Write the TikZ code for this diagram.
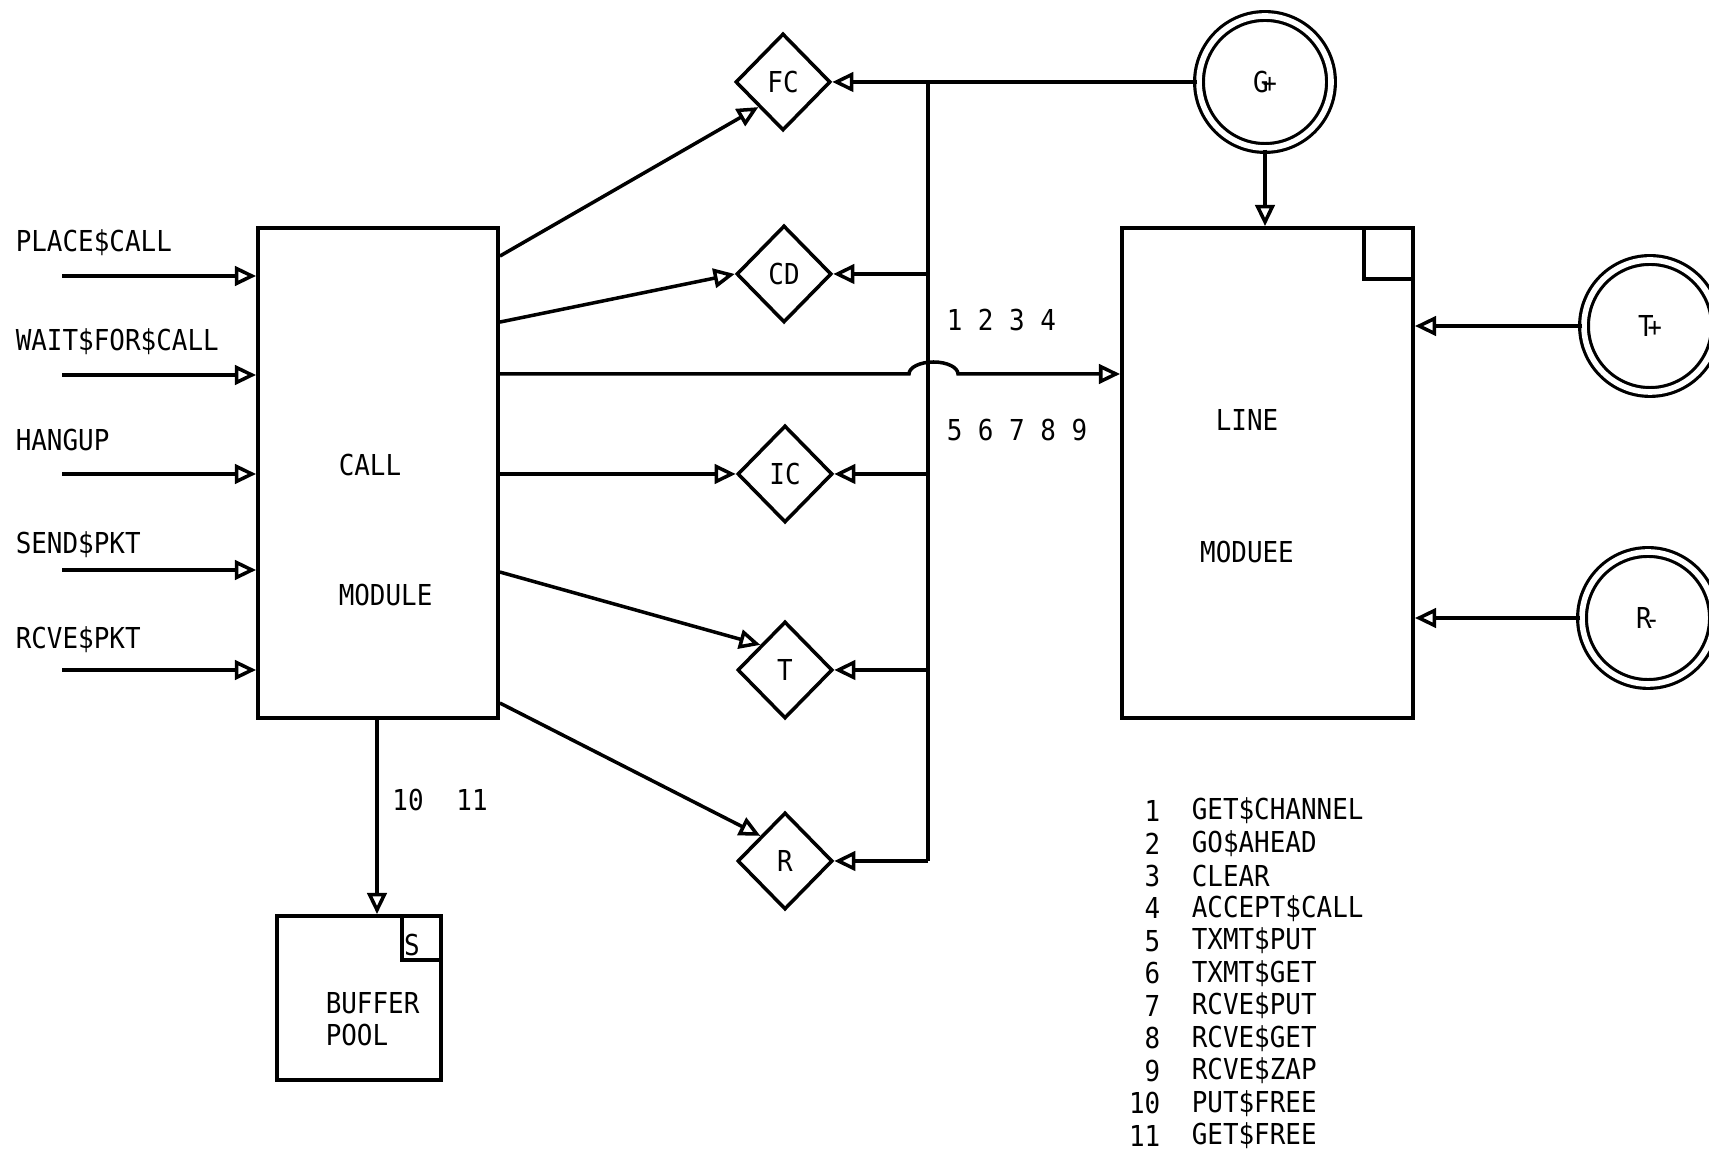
\documentclass[tikz,border=0pt]{standalone}
\usepackage{fontspec}
\setmainfont{DejaVu Sans Mono}[FakeStretch=0.9]
\usetikzlibrary{arrows.meta, positioning, calc, shapes.geometric}

% overstruck typewriter letter
\newcommand{\ovst}[2]{#1\kern-0.22em{\fontsize{7.5}{7.5}\selectfont #2}}

\begin{document}
\begin{tikzpicture}[
    myarrow/.style={-{Triangle[open, length=6pt, width=5.5pt, line width=1pt]}, line width=1pt},
    modbox/.style={draw, line width=1.1pt, inner sep=0pt},
    gate/.style={draw, diamond, line width=1pt, inner sep=0pt,
                 minimum width=0.95cm, minimum height=0.97cm},
    ring/.style={draw, circle, double, double distance=1.6pt, line width=0.9pt,
                 minimum size=1.32cm, inner sep=0pt},
    lbl/.style={inner sep=0pt},
    font=\fontsize{8.2}{9.2}\selectfont,
    line width=1pt,
]
\useasboundingbox (0,0) rectangle (17.09,11.52);

% ===================== CALL MODULE =====================
\node[modbox, minimum width=2.4cm, minimum height=4.9cm] (call) at (3.78, 6.79) {};
\node[lbl, anchor=west] (callA) at (3.37, 6.87) {CALL};
\node[lbl, anchor=west] (callB) at (3.37, 5.57) {MODULE};

% Entry points on the left
\foreach \y/\ly/\txt [count=\i] in {8.76/9.09/PLACE\$CALL, 7.77/8.10/WAIT\$FOR\$CALL,
        6.78/7.12/HANGUP, 5.82/6.07/SEND\$PKT, 4.82/5.12/RCVE\$PKT} {
    \node[lbl, anchor=west] (in\i) at (0.14, \ly) {\txt};
    \coordinate (src\i) at (0.62, \y);
    \draw[myarrow] (src\i) -- (src\i -| call.west);
}

% ===================== GATES =====================
\node[gate] (fc) at (7.83, 10.70) {FC};
\node[gate] (cd) at (7.84, 8.78) {CD};
\node[gate] (ic) at (7.85, 6.78) {IC};
\node[gate] (tg) at (7.85, 4.82) {T};
\node[gate] (rg) at (7.85, 2.91) {R};

% call module -> gates
\coordinate (c1) at ($(call.north east)+(0,-0.30)$);
\coordinate (c2) at ($(call.north east)+(0,-0.96)$);
\coordinate (c4) at ($(call.north east)+(0,-3.46)$);
\coordinate (c5) at ($(call.north east)+(0,-4.77)$);
\draw[myarrow] (c1) -- (fc.south west);
\draw[myarrow] (c2) -- (cd.west);
\draw[myarrow] (call.east |- ic) -- (ic.west);
\draw[myarrow] (c4) -- (tg.north west);
\draw[myarrow] (c5) -- (rg.north west);

% ===================== G RING + BUS =====================
\node[ring] (g) at (12.65, 10.70) {\ovst{G}{+}};
\draw[myarrow] (g.west) -- (fc.east);

\coordinate (bus) at (9.28, 0);
\draw (fc.east -| bus) -- (rg.east -| bus);
\foreach \d in {cd, ic, tg, rg} {
    \draw[myarrow] (\d.east -| bus) -- (\d.east);
}

\node[lbl, anchor=west] (nums1) at (9.45, 8.32) {1 2 3 4};
\node[lbl, anchor=west] (nums2) at (9.45, 7.22) {5 6 7 8 9};

% ===================== LINE MODULE =====================
\node[modbox, minimum width=2.91cm, minimum height=4.9cm] (line) at (12.675, 6.79) {};
\node[lbl] (lineA) at (12.47, 7.32) {LINE};
\node[lbl] (lineB) at (12.47, 6.00) {MODUEE};
\draw ($(line.north east)+(-0.51,0)$) -- ++(0,-0.53) -- ($(line.north east)+(0,-0.53)$);

\draw[myarrow] (g.south) -- (g.south |- line.north);

% main line, hopping over the bus
\coordinate (mainy) at (0, 7.78);
\draw[myarrow] (call.east |- mainy) -- ($(bus |- mainy)+(-0.19,0)$)
    arc[start angle=180, end angle=0, x radius=0.245, y radius=0.12]
    -- (line.west |- mainy);

% ===================== T / R RINGS =====================
\node[ring] (tr) at (16.50, 8.26) {\ovst{T}{+}};
\node[ring] (rr) at (16.48, 5.34) {\ovst{R}{-}};
\draw[myarrow] (tr.west) -- (tr.west -| line.east);
\draw[myarrow] (rr.west) -- (rr.west -| line.east);

% ===================== BUFFER POOL =====================
\node[modbox, minimum width=1.64cm, minimum height=1.64cm] (pool) at (3.59, 1.54) {};
\node[lbl, anchor=west, align=left] (poolt) at (3.24, 1.33) {BUFFER\\POOL};
\draw ($(pool.north east)+(-0.41,0)$) -- ++(0,-0.46) -- ($(pool.north east)+(0,-0.46)$);
\node[lbl] (poolS) at (4.12, 2.07) {S};

\coordinate (bp) at (3.77, 0);
\draw[myarrow] (call.south -| bp) -- (pool.north -| bp);
\node[lbl] (n10) at (4.08, 3.52) {10};
\node[lbl] (n11) at (4.72, 3.52) {11};

% ===================== LEGEND =====================
\foreach \n/\name [count=\i from 0] in {1/GET\$CHANNEL, 2/GO\$AHEAD, 3/CLEAR,
        4/ACCEPT\$CALL, 5/TXMT\$PUT, 6/TXMT\$GET, 7/RCVE\$PUT, 8/RCVE\$GET,
        9/RCVE\$ZAP, 10/PUT\$FREE, 11/GET\$FREE} {
    \node[lbl, anchor=east] (ln\n) at (11.62, 3.41-0.325*\i) {\n};
    \node[lbl, anchor=west] (lt\n) at (11.90, 3.41-0.325*\i) {\name};
}

\end{tikzpicture}
\end{document}
